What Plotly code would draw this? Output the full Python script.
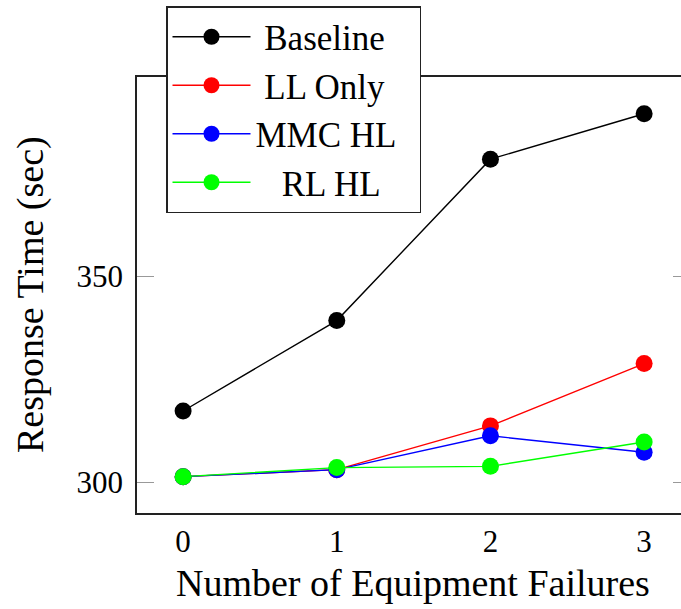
import plotly.graph_objects as go

failures = [0, 1, 2, 3]
baseline = [317.3, 339.2, 378.3, 389.3]
ll_only = [301.4, 303.1, 313.7, 328.8]
mmc_hl = [301.4, 303.1, 311.3, 307.3]
rl_hl = [301.4, 303.6, 303.9, 309.8]

NB = "\u00a0"
series = [
    (NB + "Baseline", baseline, "#000000"),
    (NB + "LL Only", ll_only, "#ff0000"),
    ("MMC HL" + NB * 2, mmc_hl, "#0000ff"),
    (NB * 3 + "RL HL", rl_hl, "#00ff00"),
]

FONT = "Liberation Serif"
fig = go.Figure()
for name, vals, col in series:
    fig.add_trace(go.Scatter(
        x=failures, y=vals, name=name, mode="lines+markers",
        line=dict(color=col, width=1.4),
        marker=dict(color=col, size=17, line=dict(width=0)),
    ))

# invisible trace to carry right-side ticks
fig.add_trace(go.Scatter(x=[0], y=[300], yaxis="y2", showlegend=False,
                         mode="markers", marker=dict(opacity=0), hoverinfo="skip"))

fig.update_layout(
    width=681, height=609,
    margin=dict(l=137, r=0, t=77, b=96),
    paper_bgcolor="white", plot_bgcolor="white",
    font=dict(family=FONT, size=33, color="black"),
    showlegend=True,
    legend=dict(
        x=(166 - 137) / 544, y=(512.7 - 5.7) / 436, xanchor="left", yanchor="top",
        bordercolor="#222222", borderwidth=1.5, bgcolor="white",
        font=dict(family=FONT, size=35), itemwidth=78,
    ),
    xaxis=dict(
        range=[-0.3, 3.24], tickvals=failures, ticktext=[str(v) for v in failures],
        showgrid=False, zeroline=False, showline=True, linecolor="#222222", linewidth=1.5,
        mirror=True, ticks="", tickfont=dict(size=31),
    ),
    yaxis=dict(
        range=[292.6, 398.2], tickvals=[300, 350], showgrid=False, zeroline=False,
        showline=True, linecolor="#222222", linewidth=1.5, mirror=False,
        ticks="inside", ticklen=17, tickcolor="#999999", tickwidth=1.2,
        tickfont=dict(size=31), ticklabelstandoff=6,
    ),
    yaxis2=dict(
        range=[292.6, 398.2], overlaying="y", side="right", tickvals=[300, 350],
        showgrid=False, zeroline=False, showline=False, showticklabels=False,
        ticks="inside", ticklen=8, tickcolor="#999999", tickwidth=1.2,
    ),
    annotations=[
        dict(text="Number of Equipment Failures", xref="paper", yref="paper",
             x=(413 - 137) / 544, y=(512.7 - 583) / 436, xanchor="center", yanchor="middle",
             showarrow=False, font=dict(size=38)),
        dict(text="Response Time (sec)", xref="paper", yref="paper",
             x=(30 - 137) / 544, y=0.5, xanchor="center", yanchor="middle",
             textangle=-90, showarrow=False, font=dict(size=38)),
    ],
)

fig.write_html("out.html")
